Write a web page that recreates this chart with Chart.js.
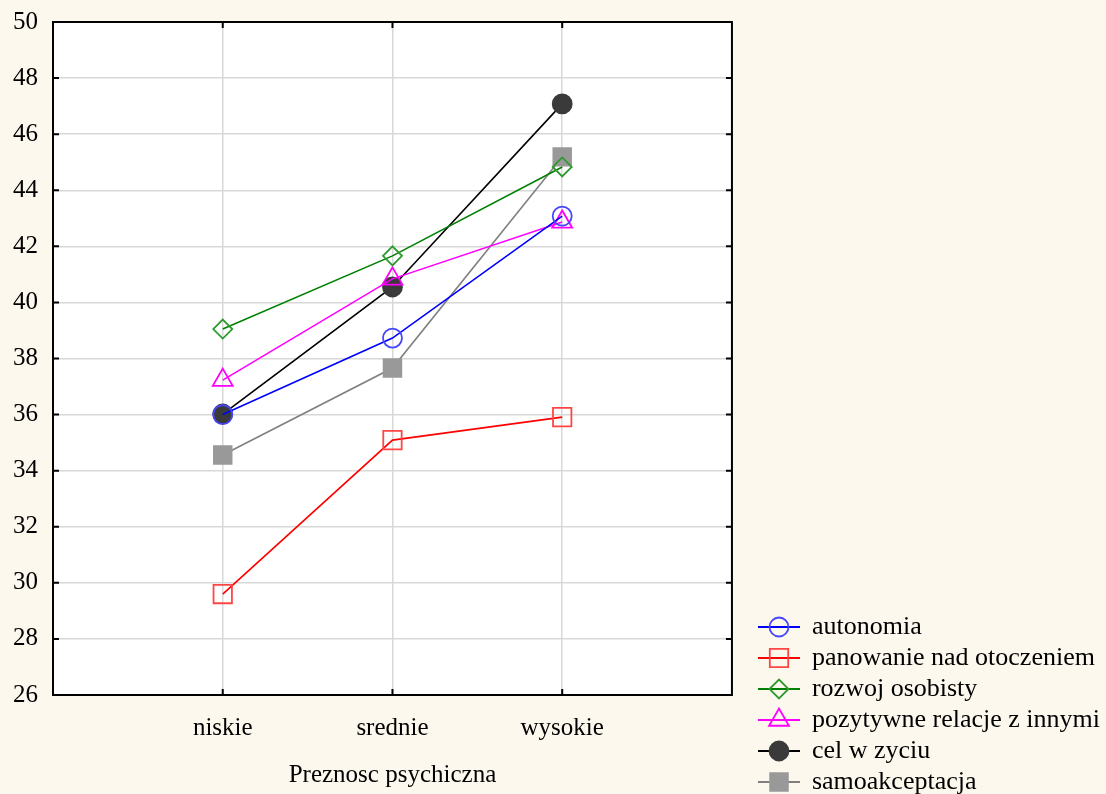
<!DOCTYPE html>
<html>
<head>
<meta charset="utf-8">
<script src="https://cdn.jsdelivr.net/npm/chart.js@4/dist/chart.umd.min.js"></script>
<style>
  body { margin: 0; background: #fdf8ee; }
  #wrap { width: 1106px; height: 794px; }
</style>
</head>
<body>
<div id="wrap"><canvas id="chart" width="1106" height="794"></canvas></div>
<script>
const categories = ["niskie", "srednie", "wysokie"];
const seriesNames = ["autonomia", "panowanie nad otoczeniem", "rozwoj osobisty", "pozytywne relacje z innymi", "cel w zyciu", "samoakceptacja"];
const autonomia = [36.0, 38.73, 43.08];
const panowanie = [29.6, 35.09, 35.91];
const rozwoj = [39.05, 41.66, 44.83];
const pozytywne = [37.23, 40.84, 42.87];
const celWZyciu = [36.02, 40.55, 47.08];
const samoakceptacja = [34.56, 37.66, 45.19];
const yTicks = [26, 28, 30, 32, 34, 36, 38, 40, 42, 44, 46, 48, 50];

const FONT = "'Liberation Serif', 'Times New Roman', serif";

const styles = [
	{ line: "#0000ff", border: "#4646ff", fill: "rgba(0,0,0,0)", shape: "circle", r: 9.5 },
	{ line: "#ff0000", border: "#ff4646", fill: "rgba(0,0,0,0)", shape: "rect", r: 13 },
	{ line: "#008000", border: "#2e9a2e", fill: "rgba(0,0,0,0)", shape: "rectRot", r: 9.5 },
	{ line: "#ff00ff", border: "#ff00ff", fill: "rgba(0,0,0,0)", shape: "triangle", r: 11.5 },
	{ line: "#000000", border: "#3a3a3a", fill: "#3a3a3a", shape: "circle", r: 9.5 },
	{ line: "#808080", border: "#999999", fill: "#999999", shape: "rect", r: 12.5 },
];
const values = [autonomia, panowanie, rozwoj, pozytywne, celWZyciu, samoakceptacja];

// legend icon: short line with the marker in the middle
function legendIcon(s) {
	const c = document.createElement("canvas");
	c.width = 42;
	c.height = 30;
	const g = c.getContext("2d");
	g.strokeStyle = s.line;
	g.lineWidth = 1.8;
	g.beginPath();
	g.moveTo(0, 15);
	g.lineTo(42, 15);
	g.stroke();
	g.strokeStyle = s.border;
	g.fillStyle = s.fill;
	Chart.helpers.drawPoint(g, { pointStyle: s.shape, radius: s.r, rotation: 0, borderWidth: 1.8 }, 21, 15);
	return c;
}
const icons = styles.map(legendIcon);

const framePlugin = {
	id: "frame",
	beforeDraw(chart) {
		const { ctx, chartArea: a } = chart;
		ctx.save();
		ctx.fillStyle = "#fdf8ee";
		ctx.fillRect(0, 0, chart.width, chart.height);
		ctx.fillStyle = "#ffffff";
		ctx.fillRect(a.left, a.top, a.right - a.left, a.bottom - a.top);
		ctx.restore();
	},
	beforeDatasetsDraw(chart) {
		const { ctx, chartArea: a, scales } = chart;
		ctx.save();
		ctx.strokeStyle = "#000";
		ctx.lineWidth = 2;
		ctx.strokeRect(a.left, a.top, a.right - a.left, a.bottom - a.top);
		ctx.beginPath();
		yTicks.slice(1, -1).forEach((v) => {
			const y = scales.y.getPixelForValue(v);
			ctx.moveTo(a.left, y);
			ctx.lineTo(a.left + 6, y);
			ctx.moveTo(a.right, y);
			ctx.lineTo(a.right - 6, y);
		});
		categories.forEach((c, i) => {
			const x = scales.x.getPixelForValue(i + 1);
			ctx.moveTo(x, a.bottom);
			ctx.lineTo(x, a.bottom - 6);
			ctx.moveTo(x, a.top);
			ctx.lineTo(x, a.top + 6);
		});
		ctx.stroke();
		ctx.restore();
	},
};

new Chart(document.getElementById("chart"), {
	type: "line",
	data: {
		datasets: seriesNames.map((name, k) => ({
			label: name,
			data: values[k].map((v, i) => ({ x: i + 1, y: v })),
			borderColor: styles[k].line,
			backgroundColor: styles[k].fill,
			borderWidth: 1.6,
			pointStyle: styles[k].shape,
			pointRadius: styles[k].r,
			pointHoverRadius: styles[k].r,
			pointBorderColor: styles[k].border,
			pointBackgroundColor: styles[k].fill,
			pointBorderWidth: 1.8,
			tension: 0,
			fill: false,
		})),
	},
	options: {
		responsive: false,
		animation: false,
		layout: { padding: { left: -2, top: 22, right: -4, bottom: -6 } },
		scales: {
			x: {
				type: "linear",
				min: 0,
				max: 4,
				border: { display: false },
				grid: {
					drawTicks: false,
					lineWidth: 1.5,
					color: (c) => (c.tick && (c.tick.value === 0 || c.tick.value === 4) ? "rgba(0,0,0,0)" : "#d8d8d8"),
				},
				ticks: {
					stepSize: 1,
					padding: 18,
					color: "#000",
					font: { family: FONT, size: 25 },
					callback: (v) => categories[v - 1] || "",
				},
				title: {
					display: true,
					text: "Preznosc psychiczna",
					color: "#000",
					font: { family: FONT, size: 25 },
					padding: { top: -1, bottom: 10 },
				},
			},
			y: {
				min: 26,
				max: 50,
				border: { display: false },
				grid: { drawTicks: false, lineWidth: 1.5, color: "#d8d8d8" },
				ticks: {
					stepSize: 2,
					padding: 15,
					color: "#000",
					font: { family: FONT, size: 25 },
				},
				afterFit: (s) => { s.paddingTop = 0; },
			},
			spacer: {
				position: "right",
				display: true,
				border: { display: false },
				grid: { display: false },
				ticks: { display: false },
				afterFit: (s) => { s.width = 22; },
			},
		},
		plugins: {
			tooltip: { enabled: false },
			legend: {
				position: "right",
				align: "end",
				maxWidth: 440,
				labels: {
					usePointStyle: true,
					pointStyleWidth: 40,
					padding: 5,
					color: "#000",
					font: { family: FONT, size: 26 },
					generateLabels: (chart) =>
						Chart.defaults.plugins.legend.labels.generateLabels(chart).map((it) => ({
							...it,
							pointStyle: icons[it.datasetIndex],
						})),
				},
			},
		},
	},
	plugins: [framePlugin],
});
</script>
</body>
</html>
